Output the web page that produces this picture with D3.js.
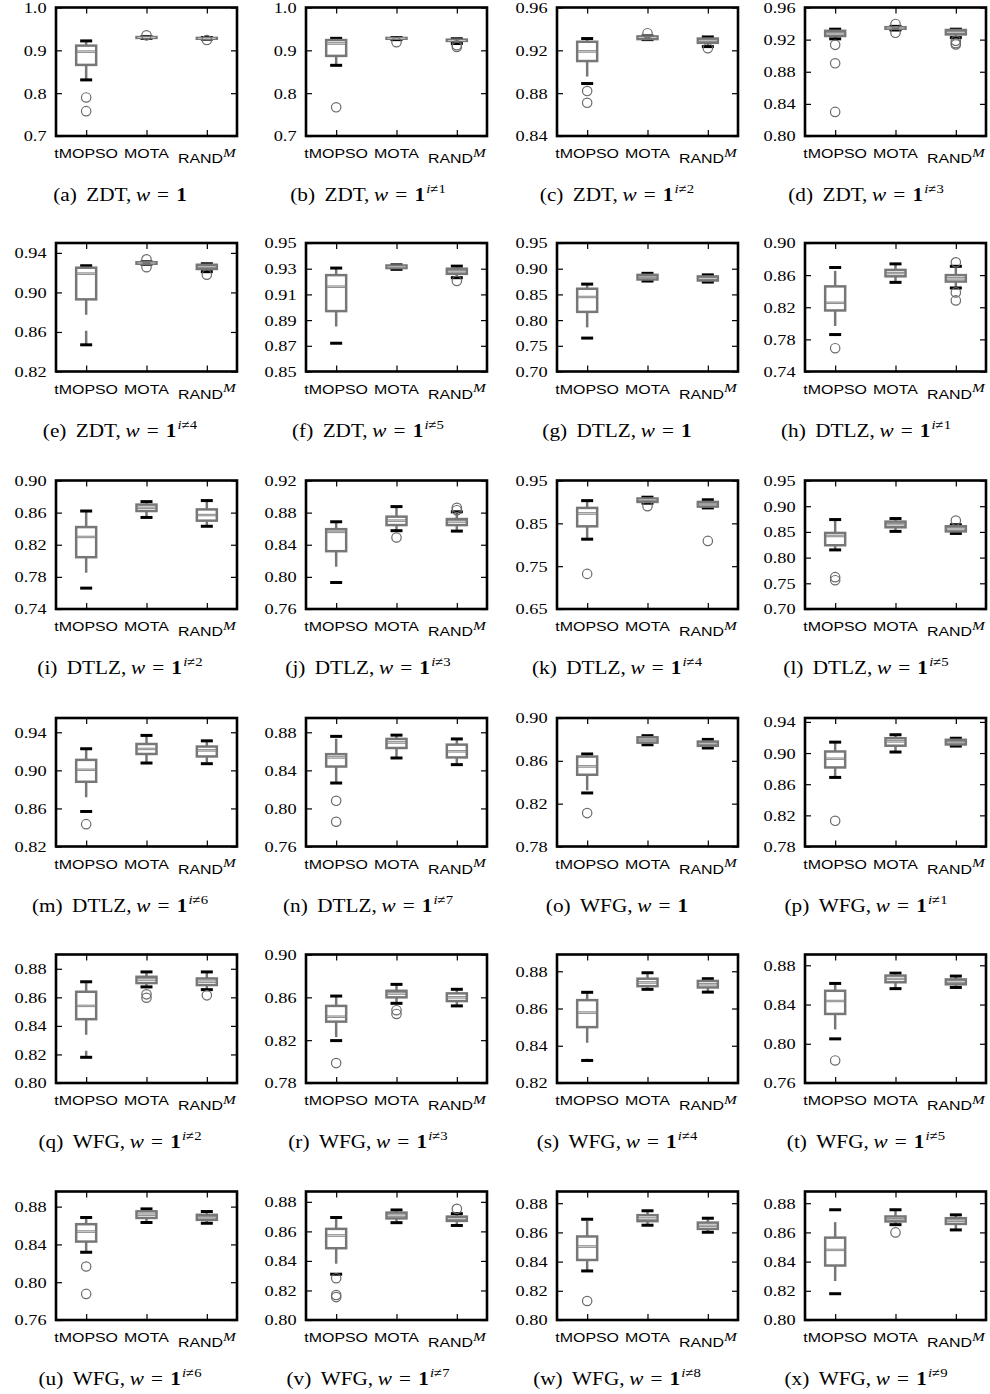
<!DOCTYPE html>
<html>
<head>
<meta charset="utf-8">
<script src="https://cdn.jsdelivr.net/npm/d3@7"></script>
<style>
  body { margin: 0; background: #fff; }
  svg { display: block; }
</style>
</head>
<body>
<svg id="fig" width="990" height="1394"></svg>
<script>
// ---- data -------------------------------------------------------------
const panelLetters = "abcdefghijklmnopqrstuvwx".split("");
const suites = ["ZDT","ZDT","ZDT","ZDT","ZDT","ZDT",
                "DTLZ","DTLZ","DTLZ","DTLZ","DTLZ","DTLZ","DTLZ","DTLZ",
                "WFG","WFG","WFG","WFG","WFG","WFG","WFG","WFG","WFG","WFG"];
// objective left out of the weight vector (null = all ones)
const excluded = [null,1,2,3,4,5, null,1,2,3,4,5,6,7, null,1,2,3,4,5,6,7,8,9];
const methods = ["tMOPSO","MOTA","RAND"];

const yDomains = [
  [0.7,1.0],[0.7,1.0],[0.84,0.96],[0.80,0.96],
  [0.82,0.95],[0.85,0.95],[0.70,0.95],[0.74,0.90],
  [0.74,0.90],[0.76,0.92],[0.65,0.95],[0.70,0.95],
  [0.82,0.955],[0.76,0.895],[0.78,0.90],[0.78,0.945],
  [0.80,0.89],[0.78,0.90],[0.82,0.889],[0.76,0.891],
  [0.76,0.896],[0.80,0.887],[0.80,0.888],[0.80,0.888]
];
const yTickLabels = [
  ["0.7","0.8","0.9","1.0"], ["0.7","0.8","0.9","1.0"],
  ["0.84","0.88","0.92","0.96"], ["0.80","0.84","0.88","0.92","0.96"],
  ["0.82","0.86","0.90","0.94"], ["0.85","0.87","0.89","0.91","0.93","0.95"],
  ["0.70","0.75","0.80","0.85","0.90","0.95"], ["0.74","0.78","0.82","0.86","0.90"],
  ["0.74","0.78","0.82","0.86","0.90"], ["0.76","0.80","0.84","0.88","0.92"],
  ["0.65","0.75","0.85","0.95"], ["0.70","0.75","0.80","0.85","0.90","0.95"],
  ["0.82","0.86","0.90","0.94"], ["0.76","0.80","0.84","0.88"],
  ["0.78","0.82","0.86","0.90"], ["0.78","0.82","0.86","0.90","0.94"],
  ["0.80","0.82","0.84","0.86","0.88"], ["0.78","0.82","0.86","0.90"],
  ["0.82","0.84","0.86","0.88"], ["0.76","0.80","0.84","0.88"],
  ["0.76","0.80","0.84","0.88"], ["0.80","0.82","0.84","0.86","0.88"],
  ["0.80","0.82","0.84","0.86","0.88"], ["0.80","0.82","0.84","0.86","0.88"]
];

// per panel: [tMOPSO, MOTA, RAND]
const whiskerLow = [
  [0.831,0.928,0.926],[0.865,0.925,0.916],[0.889,0.930,0.9235],[0.921,0.932,0.9225],
  [0.847,0.9285,0.921],[0.872,0.9295,0.923],[0.765,0.876,0.874],[0.786,0.851,0.844],
  [0.766,0.854,0.843],[0.793,0.8575,0.857],[0.813,0.897,0.886],[0.815,0.851,0.847],
  [0.8568,0.9077,0.907],[0.8267,0.853,0.846],[0.830,0.875,0.872],[0.8687,0.9013,0.909],
  [0.818,0.8673,0.8654],[0.8196,0.8544,0.852],[0.8321,0.8703,0.8688],[0.805,0.8562,0.8574],
  [0.8317,0.8632,0.8624],[0.831,0.8659,0.864],[0.8336,0.8649,0.8601],[0.818,0.8653,0.8617]
];
const quartile1 = [
  [0.866,0.929,0.927],[0.887,0.927,0.922],[0.910,0.9305,0.927],[0.9245,0.9335,0.9265],
  [0.893,0.929,0.9237],[0.897,0.9305,0.926],[0.816,0.879,0.877],[0.816,0.8585,0.852],
  [0.8045,0.862,0.850],[0.832,0.8645,0.8645],[0.843,0.900,0.889],[0.824,0.859,0.851],
  [0.888,0.9172,0.9146],[0.844,0.8635,0.8536],[0.847,0.877,0.874],[0.8815,0.9094,0.911],
  [0.8447,0.870,0.8686],[0.8373,0.860,0.8565],[0.850,0.872,0.8713],[0.8304,0.8627,0.8606],
  [0.843,0.868,0.866],[0.8486,0.8688,0.8671],[0.8411,0.8677,0.8624],[0.8373,0.8675,0.8658]
];
const medians = [
  [0.897,0.930,0.928],[0.916,0.928,0.923],[0.919,0.932,0.929],[0.928,0.9345,0.929],
  [0.919,0.9298,0.926],[0.916,0.9315,0.928],[0.845,0.884,0.881],[0.8255,0.8625,0.856],
  [0.8297,0.866,0.857],[0.856,0.870,0.869],[0.873,0.905,0.895],[0.842,0.865,0.857],
  [0.9006,0.9225,0.921],[0.8536,0.8693,0.860],[0.8548,0.8795,0.876],[0.8927,0.915,0.914],
  [0.854,0.8725,0.871],[0.8419,0.8636,0.860],[0.8578,0.874,0.873],[0.8436,0.8661,0.8634],
  [0.8536,0.8715,0.8688],[0.8572,0.8707,0.8687],[0.8503,0.8695,0.8645],[0.848,0.869,0.868]
];
const quartile3 = [
  [0.911,0.931,0.929],[0.924,0.929,0.925],[0.928,0.933,0.931],[0.931,0.9355,0.932],
  [0.925,0.9305,0.928],[0.925,0.9325,0.930],[0.861,0.888,0.885],[0.846,0.8665,0.860],
  [0.842,0.870,0.864],[0.8594,0.875,0.872],[0.886,0.908,0.900],[0.848,0.870,0.861],
  [0.911,0.9277,0.925],[0.857,0.873,0.867],[0.864,0.882,0.878],[0.902,0.919,0.917],
  [0.8639,0.8744,0.8732],[0.852,0.8661,0.8637],[0.8645,0.876,0.8748],[0.854,0.8695,0.8656],
  [0.8614,0.875,0.8713],[0.8617,0.8727,0.870],[0.8572,0.8718,0.8667],[0.8564,0.8709,0.8697]
];
const whiskerHigh = [
  [0.922,0.932,0.930],[0.928,0.930,0.927],[0.931,0.9335,0.9325],[0.933,0.9365,0.933],
  [0.927,0.931,0.929],[0.9305,0.933,0.932],[0.870,0.891,0.888],[0.8695,0.874,0.871],
  [0.862,0.8737,0.875],[0.8686,0.8875,0.881],[0.903,0.911,0.905],[0.874,0.876,0.864],
  [0.9227,0.9367,0.931],[0.8757,0.877,0.873],[0.8664,0.8835,0.880],[0.914,0.9235,0.919],
  [0.8709,0.8778,0.8778],[0.8612,0.8721,0.8675],[0.8687,0.8792,0.876],[0.8615,0.872,0.869],
  [0.8685,0.8776,0.8748],[0.8694,0.8745,0.872],[0.869,0.8748,0.8697],[0.8755,0.8755,0.872]
];
const outliers = [
  [[0.790,0.758],[0.935],[0.924]],
  [[0.767],[0.919],[0.912,0.908]],
  [[0.882,0.871],[0.936],[0.922]],
  [[0.9135,0.8905,0.830],[0.9395,0.9285],[0.9185,0.9155,0.914]],
  [[],[0.9335,0.9255],[0.918]],
  [[],[],[0.9205]],
  [[],[],[]],
  [[0.769],[],[0.876,0.8385,0.8285]],
  [[],[],[]],
  [[],[0.849],[0.886,0.883]],
  [[0.732],[0.890],[0.809]],
  [[0.762,0.756],[],[0.872]],
  [[0.8435],[],[]],
  [[0.808,0.786],[],[]],
  [[0.8112],[],[]],
  [[0.813],[],[]],
  [[],[0.8621,0.8597],[0.8614]],
  [[0.7986],[0.848,0.8445],[]],
  [[],[],[]],
  [[0.783],[],[]],
  [[0.8166,0.7876],[],[]],
  [[0.8283,0.8169,0.8155],[],[0.8753]],
  [[0.813],[],[]],
  [[],[0.860],[]]
];

// ---- layout -----------------------------------------------------------
const colLeft = [56, 306, 557, 805];
const rowTop = [7.5, 243, 480.5, 718, 954.5, 1191.5];
const captionCenter = [120, 368, 617, 866];
const plotW = 181, plotH = 128.5;
const TEXT_SX = 1.18;            // horizontal widening of all text
const GREY = "#777777";
const SERIF = "'Liberation Serif','DejaVu Serif',serif";
const SANS = "'Liberation Sans',Arial,sans-serif";

const svg = d3.select("#fig");

function drawPanel(i) {
  const row = Math.floor(i / 4), col = i % 4;
  const g = svg.append("g")
    .attr("transform", `translate(${colLeft[col]},${rowTop[row]})`);

  const y = d3.scaleLinear().domain(yDomains[i]).range([plotH, 0]);
  const x = d3.scalePoint().domain(methods).range([0, plotW]).padding(0.5);
  const tickVals = yTickLabels[i].map(Number);

  // axes with inward ticks on all four sides
  const left = g.append("g")
    .call(d3.axisLeft(y).tickValues(tickVals)
      .tickFormat((d, k) => yTickLabels[i][k]).tickSize(-6).tickPadding(8));
  left.attr("font-family", SERIF).attr("font-size", 15.5);
  left.selectAll("text").attr("fill", "#000").attr("transform", `scale(${TEXT_SX},1)`);

  const right = g.append("g").attr("transform", `translate(${plotW},0)`)
    .call(d3.axisRight(y).tickValues(tickVals).tickSize(-6).tickFormat(""));
  const top = g.append("g")
    .call(d3.axisTop(x).tickSize(-6).tickFormat(""));
  const bottom = g.append("g").attr("transform", `translate(0,${plotH})`)
    .call(d3.axisBottom(x).tickSize(-6).tickFormat(""));

  [left, right, top, bottom].forEach(a => {
    a.select(".domain").remove();
    a.selectAll(".tick line").attr("stroke", "#000").attr("stroke-width", 1.2);
  });

  // box plots
  methods.forEach((m, j) => {
    const cx = x(m);
    const b = g.append("g");
    const lo = whiskerLow[i][j], hi = whiskerHigh[i][j];
    const qa = quartile1[i][j], qb = quartile3[i][j], md = medians[i][j];

    // dashed whiskers from the box out to the caps
    [[qb, hi], [qa, lo]].forEach(([from, to]) => {
      b.append("line")
        .attr("x1", cx).attr("x2", cx)
        .attr("y1", y(from)).attr("y2", y(to))
        .attr("stroke", GREY).attr("stroke-width", 2.5)
        .attr("stroke-dasharray", "15.5,16");
    });
    // caps
    [lo, hi].forEach(v => {
      b.append("line")
        .attr("x1", cx - 6).attr("x2", cx + 6)
        .attr("y1", y(v)).attr("y2", y(v))
        .attr("stroke", "#000").attr("stroke-width", 3);
    });
    // box
    b.append("rect")
      .attr("x", cx - 10).attr("width", 20)
      .attr("y", y(qb)).attr("height", Math.max(0, y(qa) - y(qb)))
      .attr("fill", "#fff").attr("stroke", GREY).attr("stroke-width", 2.5);
    // median
    b.append("line")
      .attr("x1", cx - 10).attr("x2", cx + 10)
      .attr("y1", y(md)).attr("y2", y(md))
      .attr("stroke", GREY).attr("stroke-width", 2.4);
    b.append("line")
      .attr("x1", cx - 9).attr("x2", cx + 9)
      .attr("y1", y(md)).attr("y2", y(md))
      .attr("stroke", "#d4d4d4").attr("stroke-width", 0.9);
    // fliers
    b.selectAll("circle").data(outliers[i][j]).join("circle")
      .attr("cx", cx).attr("cy", d => y(d)).attr("r", 4.7)
      .attr("fill", "none").attr("stroke", "#6a6a6a").attr("stroke-width", 1.2);
  });

  // frame
  g.append("rect")
    .attr("width", plotW).attr("height", plotH)
    .attr("fill", "none").attr("stroke", "#000").attr("stroke-width", 2.6);

  // category labels
  methods.forEach(m => {
    const t = g.append("text")
      .attr("text-anchor", "middle")
      .attr("font-family", SANS).attr("font-size", 13.5).attr("fill", "#000");
    if (m === "RAND") {
      t.attr("transform", `translate(${x(m)},${plotH + 27}) scale(${TEXT_SX},1)`);
      t.append("tspan").text("RAND");
      t.append("tspan").attr("dy", -6.5)
        .attr("font-family", SERIF).attr("font-style", "italic").attr("font-size", 13)
        .text("M");
    } else {
      t.attr("transform", `translate(${x(m)},${plotH + 22}) scale(${TEXT_SX},1)`);
      t.text(m);
    }
  });

  // sub-caption
  const cap = svg.append("text")
    .attr("transform", `translate(${captionCenter[col]},${rowTop[row] + plotH + 65}) scale(${TEXT_SX},1)`)
    .attr("text-anchor", "middle")
    .attr("font-family", SERIF).attr("font-size", 18).attr("fill", "#000");
  cap.append("tspan").text(`(${panelLetters[i]})`);
  cap.append("tspan").attr("dx", 8).text(`${suites[i]},`);
  cap.append("tspan").attr("dx", 4).attr("font-style", "italic").text("w");
  cap.append("tspan").attr("dx", 6).text("=");
  cap.append("tspan").attr("dx", 6).attr("font-weight", "bold").text("1");
  if (excluded[i] !== null) {
    cap.append("tspan").attr("dy", -8).attr("dx", 1)
      .attr("font-size", 12.5).attr("font-style", "italic").text("i");
    cap.append("tspan").attr("font-size", 12.5).text("\u2260" + excluded[i]);
  }
}

d3.range(24).forEach(drawPanel);
</script>
</body>
</html>
